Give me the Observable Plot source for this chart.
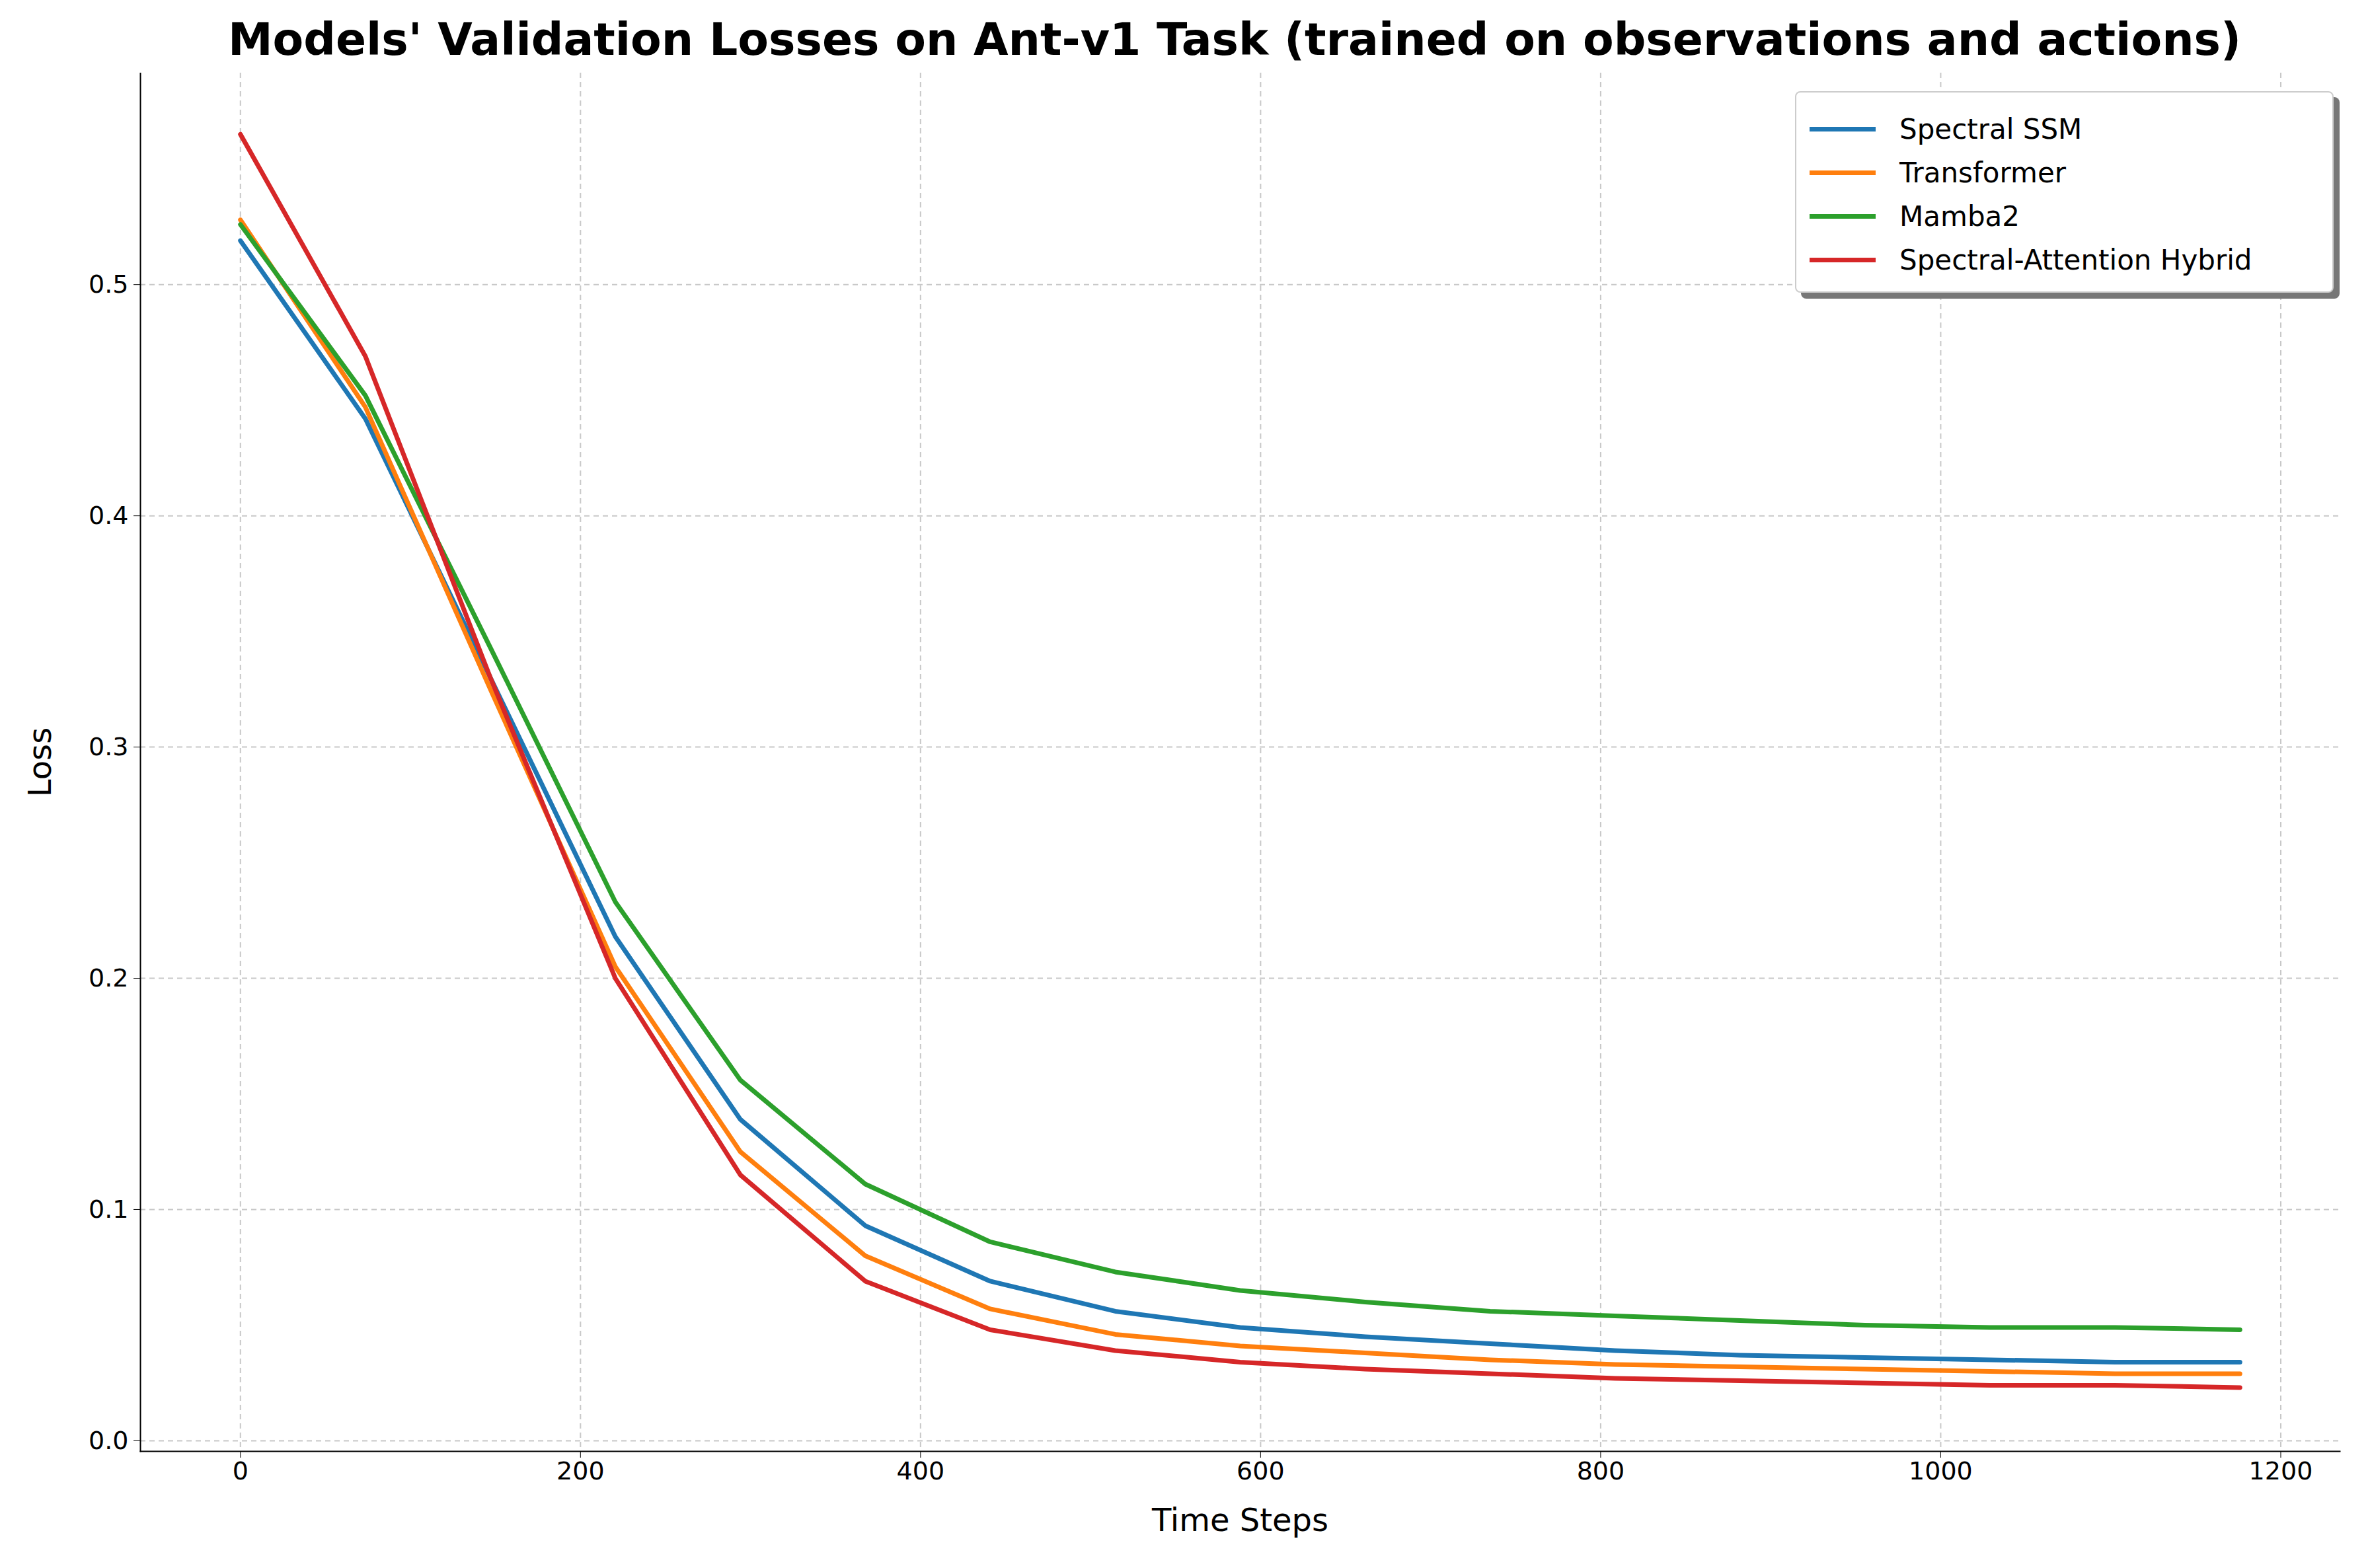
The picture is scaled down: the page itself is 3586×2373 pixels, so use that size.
<!DOCTYPE html>
<html><head><meta charset="utf-8">
<script src="https://cdn.jsdelivr.net/npm/d3@7"></script>
<script src="https://cdn.jsdelivr.net/npm/@observablehq/plot@0.6"></script>
<style>
body{margin:0;background:#fff;font-family:"DejaVu Sans",sans-serif;}
#wrap{position:relative;width:3586px;height:2373px;}
#title{height:110px;text-align:center;font-weight:bold;font-size:68px;line-height:120px;padding-left:150px;white-space:nowrap;}
#legend{position:absolute;left:2716px;top:138px;width:815px;height:305px;border:2px solid #ccc;border-radius:8px;background:#fff;box-shadow:9px 9px 0 #777;box-sizing:border-box;padding:22px 20px;}
.item{display:flex;align-items:center;height:66px;font-size:42px;}
.sw{width:100px;height:7px;margin-right:36px;}
</style></head>
<body><div id="wrap"><div id="title">Models' Validation Losses on Ant-v1 Task (trained on observations and actions)</div><div id="chart"></div><div id="legend"></div></div>
<script>
const steps = [0, 73.5, 147, 220.5, 294, 367.5, 441, 514.5, 588, 661.5, 735, 808.5, 882, 955.5, 1029, 1102.5, 1176];
const models = ["Spectral SSM", "Transformer", "Mamba2", "Spectral-Attention Hybrid"];
const colors = ["#1f77b4", "#ff7f0e", "#2ca02c", "#d62728"];
const spectralSSM = [0.519, 0.442, 0.330, 0.218, 0.139, 0.093, 0.069, 0.056, 0.049, 0.045, 0.042, 0.039, 0.037, 0.036, 0.035, 0.034, 0.034];
const transformer = [0.528, 0.447, 0.325, 0.205, 0.125, 0.080, 0.057, 0.046, 0.041, 0.038, 0.035, 0.033, 0.032, 0.031, 0.030, 0.029, 0.029];
const mamba2 = [0.526, 0.452, 0.343, 0.233, 0.156, 0.111, 0.086, 0.073, 0.065, 0.060, 0.056, 0.054, 0.052, 0.050, 0.049, 0.049, 0.048];
const hybrid = [0.565, 0.469, 0.330, 0.200, 0.115, 0.069, 0.048, 0.039, 0.034, 0.031, 0.029, 0.027, 0.026, 0.025, 0.024, 0.024, 0.023];

const series = [spectralSSM, transformer, mamba2, hybrid];
const data = [];
series.forEach((vals, k) => vals.forEach((v, i) => data.push({model: models[k], x: steps[i], y: v})));

const xt = d3.range(0, 1201, 200), yt = d3.range(0, 0.51, 0.1);
const chart = Plot.plot({
  width: 3586, height: 2263,
  marginLeft: 212, marginRight: 46, marginTop: 0, marginBottom: 177,
  style: {fontSize: "38px", fontFamily: "DejaVu Sans", color: "#000"},
  x: {domain: [-58.8, 1234.8]},
  y: {domain: [-0.0046, 0.5915]},
  color: {domain: models, range: colors},
  marks: [
    Plot.gridX(xt, {stroke: "#b0b0b0", strokeOpacity: 0.7, strokeDasharray: "8,6", strokeWidth: 2}),
    Plot.gridY(yt, {stroke: "#b0b0b0", strokeOpacity: 0.7, strokeDasharray: "8,6", strokeWidth: 2}),
    Plot.axisX({ticks: xt, tickFormat: "d", tickSize: 10, tickPadding: 6, label: "Time Steps", labelAnchor: "center", labelArrow: "none", labelOffset: 120, fontSize: 38}),
    Plot.axisY({ticks: yt, tickFormat: ".1f", tickSize: 10, tickPadding: 8, label: "Loss", labelAnchor: "center", labelArrow: "none", labelOffset: 170, fontSize: 38}),
    Plot.frame({anchor: "left", strokeWidth: 2}),
    Plot.frame({anchor: "bottom", strokeWidth: 2}),
    Plot.line(data, {x: "x", y: "y", z: "model", stroke: "model", strokeWidth: 7})
  ]
});
d3.select(chart).selectAll("[aria-label$='axis label'] text").style("font-size", "48px");
d3.select('#chart').append(() => chart);

const lg = d3.select('#legend');
models.forEach((m, i) => {
  const it = lg.append('div').attr('class', 'item');
  it.append('div').attr('class', 'sw').style('background', colors[i]);
  it.append('span').text(m);
});
</script></body></html>
